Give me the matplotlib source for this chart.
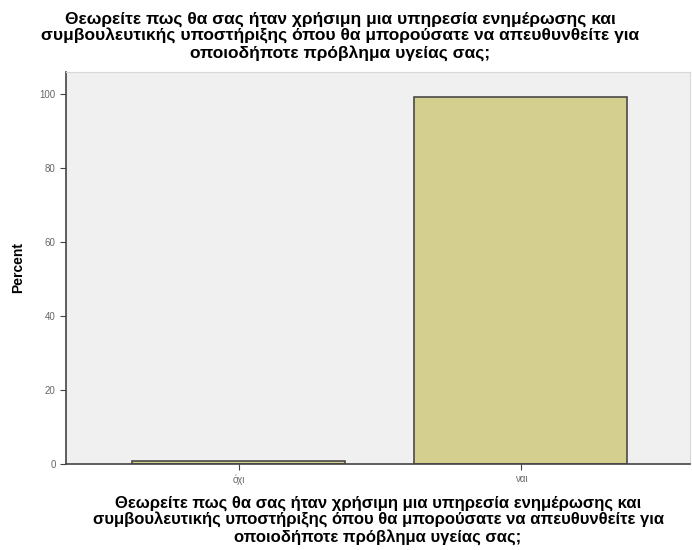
import numpy as np
import matplotlib.pyplot as plt

categories = ['όχι', 'ναι']
percent = [0.8, 99.2]
yticks = [0, 20, 40, 60, 80, 100]

question = ('Θεωρείτε πως θα σας ήταν χρήσιμη μια υπηρεσία ενημέρωσης και\n'
            'συμβουλευτικής υποστήριξης όπου θα μπορούσατε να απευθυνθείτε για\n'
            'οποιοδήποτε πρόβλημα υγείας σας;')

plt.rcParams['font.family'] = ['Liberation Sans', 'DejaVu Sans']

fig = plt.figure(figsize=(6.92, 5.5), dpi=100)
ax = fig.add_axes([0.0954, 0.157, 0.902, 0.712])
ax.set_facecolor('#f0f0f0')

x = np.arange(len(categories))
ax.bar(x, percent, width=0.755, color='#d4cf8e', edgecolor='#4a4a4a', linewidth=1.2)

ax.set_xlim(-0.613, 1.6)
ax.set_ylim(0, 106)
ax.set_xticks(x)
ax.set_xticklabels(categories, fontsize=7, color='#666666')
ax.set_yticks(yticks)
ax.set_yticklabels([str(t) for t in yticks], fontsize=7, color='#666666')
ax.tick_params(length=4, color='#444444')

for side in ['top', 'right']:
    ax.spines[side].set_color('#d8d8d8')
for side in ['left', 'bottom']:
    ax.spines[side].set_color('#444444')
    ax.spines[side].set_linewidth(1.2)

ax.set_ylabel('Percent', fontsize=10, fontweight='bold', labelpad=10)
ax.set_xlabel(question, fontsize=12, fontweight='bold', linespacing=1.08, labelpad=8)

fig.text(0.492, 0.978, question, ha='center', va='top', fontsize=12.5,
         fontweight='bold', linespacing=1.08)

fig.savefig('out.png', dpi=100)
